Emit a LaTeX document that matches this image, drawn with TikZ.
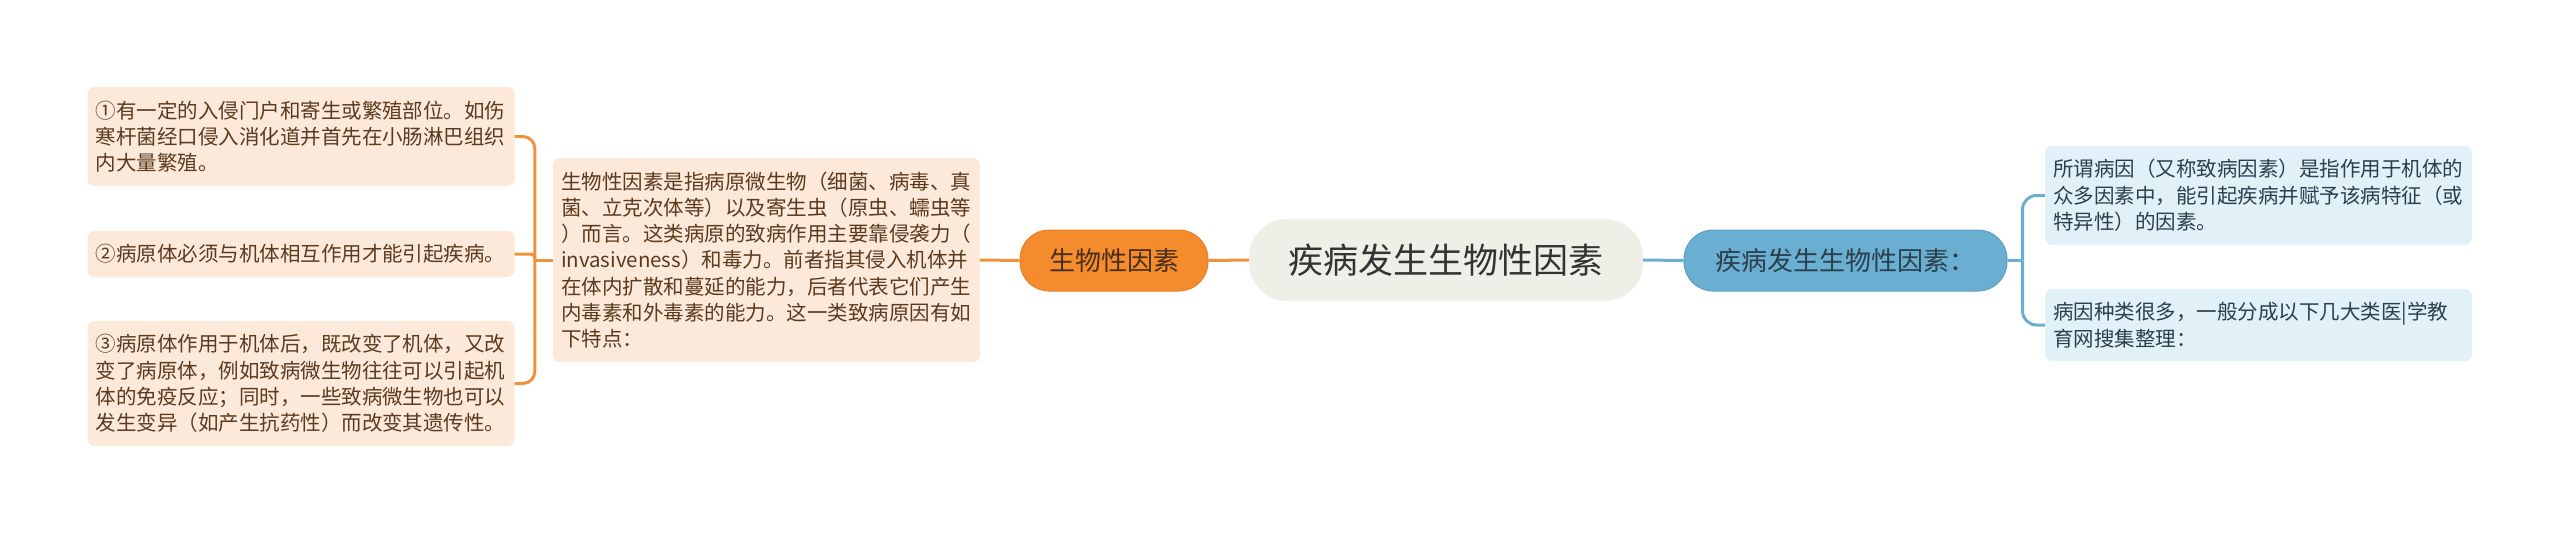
\documentclass[tikz,border=0pt]{standalone}
\usepackage{fontspec}
\setmainfont{Noto Sans CJK SC}
\definecolor{peach}{HTML}{FDE9D9}
\definecolor{peachtxt}{HTML}{5B3A1F}
\definecolor{orline}{HTML}{F0923C}
\definecolor{orfill}{HTML}{F48B2D}
\definecolor{ordraw}{HTML}{E8822A}
\definecolor{rootfill}{HTML}{EFEFE7}
\definecolor{blfill}{HTML}{6AAFD1}
\definecolor{bldraw}{HTML}{5C9FC4}
\definecolor{blbox}{HTML}{E2F0F8}
\definecolor{bltxt}{HTML}{2B3F4C}
\begin{document}
\begin{tikzpicture}[x=1pt,y=-1pt,
    peachbox/.style={fill=peach,rounded corners=7pt,text=peachtxt,align=left,
      inner xsep=8pt,inner ysep=0pt,text width=411pt,minimum width=427pt,
      font=\fontsize{20.5}{26.3}\selectfont},
    bluebox/.style={peachbox,fill=blbox,text=bltxt},
    orline/.style={draw=orline,line width=3pt},
    blline/.style={draw=blfill,line width=3pt}]
    \fill[white] (0,0) rectangle (2560,533);
    \useasboundingbox (0,0) rectangle (2560,533);
    % centre
    \node[fill=rootfill,rounded corners=38pt,minimum width=394pt,minimum height=82pt,
      text=black!80,font=\fontsize{35}{40}\selectfont] (root) at (1446,260) {疾病发生生物性因素};
    % left branch
    \node[fill=orfill,draw=ordraw,line width=1pt,rounded corners=29pt,minimum width=188pt,
      minimum height=61pt,text=peachtxt!80!black,font=\fontsize{26}{30}\selectfont] (bio) at (1114,260.5) {生物性因素};
    \node[peachbox,minimum height=204pt] (bioText) at (766.5,260) {生物性因素是指病原微生物（细菌、病毒、真\\菌、立克次体等）以及寄生虫（原虫、蠕虫等\\）而言。这类病原的致病作用主要靠侵袭力（\\invasiveness）和毒力。前者指其侵入机体并\\在体内扩散和蔓延的能力，后者代表它们产生\\内毒素和外毒素的能力。这一类致病原因有如\\下特点：};
    \node[peachbox,minimum height=99pt] (pt1) at (301,136.5) {①有一定的入侵门户和寄生或繁殖部位。如伤\\寒杆菌经口侵入消化道并首先在小肠淋巴组织\\内大量繁殖。};
    \node[peachbox,minimum height=46pt] (pt2) at (301,254) {②病原体必须与机体相互作用才能引起疾病。};
    \node[peachbox,minimum height=125pt] (pt3) at (301,383.5) {③病原体作用于机体后，既改变了机体，又改\\变了病原体，例如致病微生物往往可以引起机\\体的免疫反应；同时，一些致病微生物也可以\\发生变异（如产生抗药性）而改变其遗传性。};
    % right branch
    \node[fill=blfill,draw=bldraw,line width=1pt,rounded corners=29pt,minimum width=323pt,
      minimum height=61pt,text=bltxt,font=\fontsize{26}{30}\selectfont] (cause) at (1845.5,260.5) {疾病发生生物性因素：};
    \node[bluebox,minimum height=99pt] (causeA) at (2258.5,195.5) {所谓病因（又称致病因素）是指作用于机体的\\众多因素中，能引起疾病并赋予该病特征（或\\特异性）的因素。};
    \node[bluebox,minimum height=72pt] (causeB) at (2258.5,325) {病因种类很多，一般分成以下几大类医|学教\\育网搜集整理：};
    % connectors
    \draw[orline] (root.west) -- (bio.west -| bio.east);
    \draw[orline] (bio.west) -- (bioText.east);
    \draw[orline] (bioText.west) -- ++(-18,0) coordinate (lj);
    \draw[orline,rounded corners=12pt] (lj) |- (pt1.east);
    \draw[orline,rounded corners=4pt] (lj) |- (pt2.east);
    \draw[orline,rounded corners=12pt] (lj) |- (pt3.east);
    \draw[blline] (root.east) -- (cause.west);
    \draw[blline] (cause.east) -- ++(15,0) coordinate (rj);
    \draw[blline,rounded corners=14pt] (rj) |- (causeA.west);
    \draw[blline,rounded corners=14pt] (rj) |- (causeB.west);
\end{tikzpicture}
\end{document}
